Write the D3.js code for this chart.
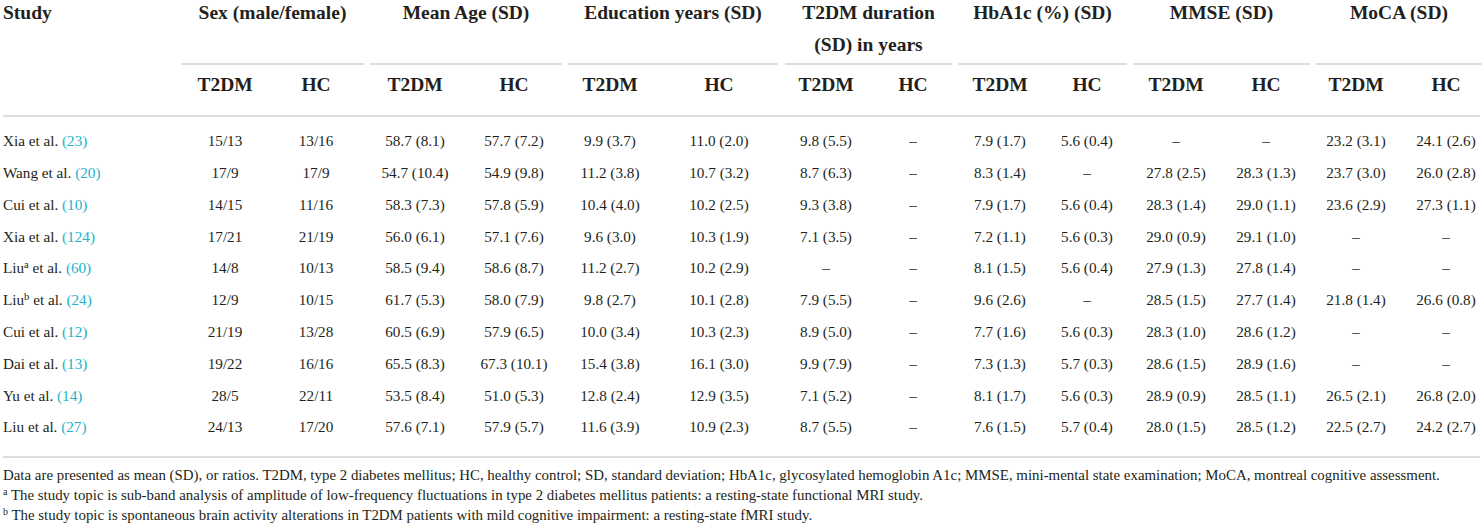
<!DOCTYPE html>
<html>
<head>
<meta charset="utf-8">
<style>
  body { margin: 0; background: #fff; }
  svg text { font-family: "Liberation Serif", "DejaVu Serif", serif; fill: #231f20; }
  .head { font-weight: bold; font-size: 19.5px; }
  .cell { font-size: 15.2px; }
  .cite { fill: #22b2c9; }
  .note { font-size: 14.9px; }
  .rule { stroke: #d2d2d2; stroke-width: 1.6; }
</style>
</head>
<body>
<svg id="table" width="1482" height="524"></svg>
<script src="https://d3js.org/d3.v7.min.js"></script>
<script>

var studies = ["Xia", "Wang", "Cui", "Xia", "Liu", "Liu", "Cui", "Dai", "Yu", "Liu"];
var studySup = ["", "", "", "", "a", "b", "", "", "", ""];
var refs = ["23", "20", "10", "124", "60", "24", "12", "13", "14", "27"];

var sexT2DM = ["15/13", "17/9", "14/15", "17/21", "14/8", "12/9", "21/19", "19/22", "28/5", "24/13"];
var sexHC = ["13/16", "17/9", "11/16", "21/19", "10/13", "10/15", "13/28", "16/16", "22/11", "17/20"];
var ageT2DM = ["58.7 (8.1)", "54.7 (10.4)", "58.3 (7.3)", "56.0 (6.1)", "58.5 (9.4)", "61.7 (5.3)", "60.5 (6.9)", "65.5 (8.3)", "53.5 (8.4)", "57.6 (7.1)"];
var ageHC = ["57.7 (7.2)", "54.9 (9.8)", "57.8 (5.9)", "57.1 (7.6)", "58.6 (8.7)", "58.0 (7.9)", "57.9 (6.5)", "67.3 (10.1)", "51.0 (5.3)", "57.9 (5.7)"];
var eduT2DM = ["9.9 (3.7)", "11.2 (3.8)", "10.4 (4.0)", "9.6 (3.0)", "11.2 (2.7)", "9.8 (2.7)", "10.0 (3.4)", "15.4 (3.8)", "12.8 (2.4)", "11.6 (3.9)"];
var eduHC = ["11.0 (2.0)", "10.7 (3.2)", "10.2 (2.5)", "10.3 (1.9)", "10.2 (2.9)", "10.1 (2.8)", "10.3 (2.3)", "16.1 (3.0)", "12.9 (3.5)", "10.9 (2.3)"];
var durT2DM = ["9.8 (5.5)", "8.7 (6.3)", "9.3 (3.8)", "7.1 (3.5)", "–", "7.9 (5.5)", "8.9 (5.0)", "9.9 (7.9)", "7.1 (5.2)", "8.7 (5.5)"];
var durHC = ["–", "–", "–", "–", "–", "–", "–", "–", "–", "–"];
var hbaT2DM = ["7.9 (1.7)", "8.3 (1.4)", "7.9 (1.7)", "7.2 (1.1)", "8.1 (1.5)", "9.6 (2.6)", "7.7 (1.6)", "7.3 (1.3)", "8.1 (1.7)", "7.6 (1.5)"];
var hbaHC = ["5.6 (0.4)", "–", "5.6 (0.4)", "5.6 (0.3)", "5.6 (0.4)", "–", "5.6 (0.3)", "5.7 (0.3)", "5.6 (0.3)", "5.7 (0.4)"];
var mmseT2DM = ["–", "27.8 (2.5)", "28.3 (1.4)", "29.0 (0.9)", "27.9 (1.3)", "28.5 (1.5)", "28.3 (1.0)", "28.6 (1.5)", "28.9 (0.9)", "28.0 (1.5)"];
var mmseHC = ["–", "28.3 (1.3)", "29.0 (1.1)", "29.1 (1.0)", "27.8 (1.4)", "27.7 (1.4)", "28.6 (1.2)", "28.9 (1.6)", "28.5 (1.1)", "28.5 (1.2)"];
var mocaT2DM = ["23.2 (3.1)", "23.7 (3.0)", "23.6 (2.9)", "–", "–", "21.8 (1.4)", "–", "–", "26.5 (2.1)", "22.5 (2.7)"];
var mocaHC = ["24.1 (2.6)", "26.0 (2.8)", "27.3 (1.1)", "–", "–", "26.6 (0.8)", "–", "–", "26.8 (2.0)", "24.2 (2.7)"];

var groupLabels = [["Sex (male/female)"], ["Mean Age (SD)"], ["Education years (SD)"],
  ["T2DM duration", "(SD) in years"], ["HbA1c (%) (SD)"], ["MMSE (SD)"], ["MoCA (SD)"]];
var subLabels = ["T2DM", "HC"];

var notes = [
  {sup: "", text: "Data are presented as mean (SD), or ratios. T2DM, type 2 diabetes mellitus; HC, healthy control; SD, standard deviation; HbA1c, glycosylated hemoglobin A1c; MMSE, mini-mental state examination; MoCA, montreal cognitive assessment."},
  {sup: "a", text: " The study topic is sub-band analysis of amplitude of low-frequency fluctuations in type 2 diabetes mellitus patients: a resting-state functional MRI study."},
  {sup: "b", text: " The study topic is spontaneous brain activity alterations in T2DM patients with mild cognitive impairment: a resting-state fMRI study."}
];

// ---- layout ----
var valueCols = [sexT2DM, sexHC, ageT2DM, ageHC, eduT2DM, eduHC, durT2DM, durHC,
  hbaT2DM, hbaHC, mmseT2DM, mmseHC, mocaT2DM, mocaHC];
var colCenters = [225, 316, 415, 514, 610, 719, 826, 913, 1000, 1087, 1176, 1266, 1356, 1446];
var groupSpans = [[181, 364], [370, 562], [568, 778], [785, 952], [958, 1127], [1133, 1310], [1316, 1482]];

var svg = d3.select("#table");
var W = +svg.attr("width");

var x = d3.scaleOrdinal().domain(d3.range(valueCols.length)).range(colCenters);
var y = d3.scalePoint().domain(d3.range(studies.length)).range([141, 427]);

// header
var head = svg.append("g");
head.append("text").attr("class", "head").attr("x", 3).attr("y", 12).attr("dy", "0.35em").text("Study");

var grp = head.selectAll("g.grp").data(groupLabels).enter().append("g").attr("class", "grp");
grp.selectAll("text").data(function(d, i) { return d.map(function(t) { return {t: t, i: i}; }); })
  .enter().append("text")
    .attr("class", "head")
    .attr("text-anchor", "middle")
    .attr("x", function(d) { var s = groupSpans[d.i]; return (s[0] + s[1]) / 2; })
    .attr("y", function(d, j) { return 12 + j * 32; })
    .attr("dy", "0.35em")
    .text(function(d) { return d.t; });
grp.append("line").attr("class", "rule")
  .attr("x1", function(d, i) { return groupSpans[i][0]; })
  .attr("x2", function(d, i) { return groupSpans[i][1]; })
  .attr("y1", 64).attr("y2", 64);

head.selectAll("text.sub").data(valueCols).enter().append("text")
  .attr("class", "head sub")
  .attr("text-anchor", "middle")
  .attr("x", function(d, i) { return x(i); })
  .attr("y", 84)
  .attr("dy", "0.35em")
  .text(function(d, i) { return subLabels[i % 2]; });

svg.append("line").attr("class", "rule").attr("x1", 3).attr("x2", W - 2).attr("y1", 116).attr("y2", 116);

// body rows
var rows = svg.selectAll("g.row").data(studies).enter().append("g")
  .attr("class", "row")
  .attr("transform", function(d, i) { return "translate(0," + y(i) + ")"; });

var studyText = rows.append("text").attr("class", "cell").attr("x", 3).attr("dy", "0.35em");
studyText.append("tspan").text(function(d) { return d; });
studyText.append("tspan").attr("baseline-shift", "super").attr("font-size", "10.5px")
  .text(function(d, i) { return studySup[i]; });
studyText.append("tspan").text(" et al. ");
studyText.append("tspan").attr("class", "cite").text(function(d, i) { return "(" + refs[i] + ")"; });

rows.selectAll("text.val")
  .data(function(d, r) { return valueCols.map(function(col, c) { return {v: col[r], c: c}; }); })
  .enter().append("text")
    .attr("class", "cell val")
    .attr("text-anchor", "middle")
    .attr("x", function(d) { return x(d.c); })
    .attr("dy", "0.35em")
    .text(function(d) { return d.v; });

svg.append("line").attr("class", "rule").attr("x1", 3).attr("x2", W - 2).attr("y1", 457).attr("y2", 457);

// footnotes
var ny = d3.scalePoint().domain(d3.range(notes.length)).range([475, 515]);
var nt = svg.selectAll("text.note").data(notes).enter().append("text")
  .attr("class", "note")
  .attr("x", 3)
  .attr("y", function(d, i) { return ny(i); })
  .attr("dy", "0.35em");
nt.append("tspan").attr("baseline-shift", "super").attr("font-size", "10px").text(function(d) { return d.sup; });
nt.append("tspan").text(function(d) { return d.text; });

</script>
</body>
</html>
